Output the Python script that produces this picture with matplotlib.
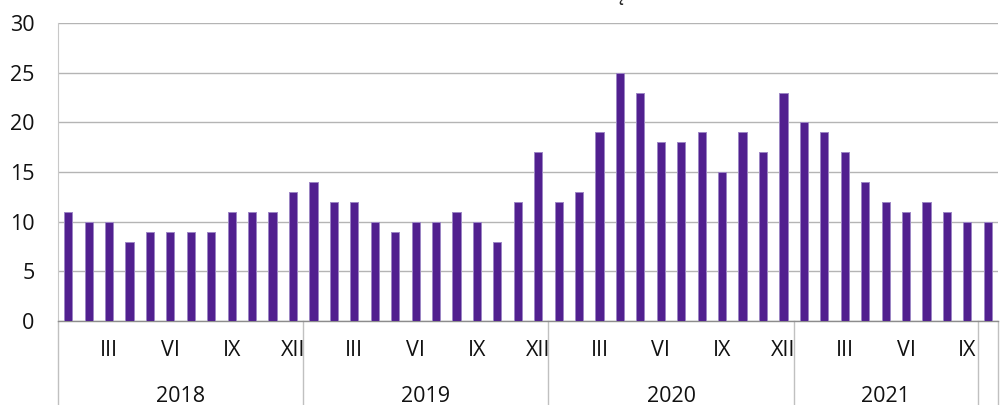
import numpy as np
import matplotlib
matplotlib.use("Agg")
import matplotlib.pyplot as plt

# Data: monthly values, Jan 2018 - Oct 2021
months = ["I", "II", "III", "IV", "V", "VI", "VII", "VIII", "IX", "X", "XI", "XII"]
years = ["2018", "2019", "2020", "2021", ""]
group_sizes = [12, 12, 12, 9, 1]
shown_months = ["III", "VI", "IX", "XII"]
values = [
    11, 10, 10, 8, 9, 9, 9, 9, 11, 11, 11, 13,      # 2018
    14, 12, 12, 10, 9, 10, 10, 11, 10, 8, 12, 17,   # 2019
    12, 13, 19, 25, 23, 18, 18, 19, 15, 19, 17, 23, # 2020
    20, 19, 17, 14, 12, 11, 12, 11, 10,             # 2021
    10,
]
title = "Stan na koniec miesiąca"

plt.rcParams["font.family"] = ["Open Sans", "DejaVu Sans"]

W, H = 1004, 405
fig = plt.figure(figsize=(W / 100, H / 100), dpi=100)
ax = fig.add_axes([58 / W, 1 - 321 / H, 940 / W, 298 / H])

bar_color = "#51208f"
x = np.arange(len(values))
ax.bar(x, values, width=0.4, color=bar_color, edgecolor="#9c86c4", linewidth=0.7, zorder=3)

ax.set_xlim(-0.5, len(values) - 0.5)
ax.set_ylim(0, 30)
ax.set_yticks(range(0, 31, 5))
ax.tick_params(axis="y", length=0, labelsize=15.5, pad=17, colors="#111111")
ax.set_xticks([])
ax.yaxis.grid(True, color="#b4b4b4", linewidth=1.0, zorder=0)
for side in ["top", "right"]:
    ax.spines[side].set_visible(False)
ax.spines["left"].set_color("#c8c8c8")
ax.spines["bottom"].set_color("#8c8c8c")
ax.spines["bottom"].set_linewidth(1.0)

# category axis (months + years) drawn below the plot
trans = ax.get_xaxis_transform()
month_y = -(351 - 321) / 298
year_y = -(397 - 321) / 298
bottom_y = -(405 - 321) / 298

start = 0
bounds = [-0.5]
for yr, n in zip(years, group_sizes):
    for i in range(n):
        m = months[i]
        if m in shown_months and n > 1:
            ax.text(start + i, month_y, m, transform=trans, ha="center", va="center",
                    fontsize=15.5, color="#111111")
    if yr:
        ax.text(start + n / 2 - 0.5, year_y, yr, transform=trans, ha="center",
                va="center", fontsize=15.5, color="#111111")
    start += n
    bounds.append(start - 0.5)

for b in bounds:
    ax.plot([b, b], [0, bottom_y], transform=trans, color="#c0c0c0", linewidth=1.0,
            clip_on=False, zorder=1)

# title, mostly cut off at the top edge
fig.text(527 / W, 1 - 0.1 / H, title, ha="center", va="baseline", fontsize=15.5, color="#222222")

fig.savefig("out.png", dpi=100)
